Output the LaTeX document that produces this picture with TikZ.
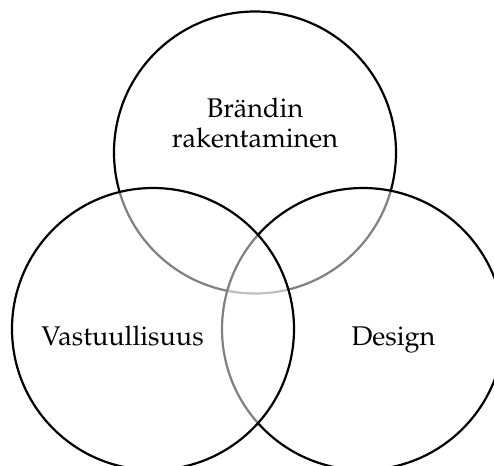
\documentclass[tikz,border=0pt]{standalone}
\usepackage[T1]{fontenc}
\renewcommand{\rmdefault}{ppl}
\usepackage{tikz}
\usetikzlibrary{positioning}
\tikzset{
  venn/.style={circle, draw=black, line width=2.2pt, fill=white, fill opacity=0.5,
    minimum size=282pt, inner sep=0pt},
  vennlabel/.style={font=\fontsize{27}{30}\selectfont, align=center, text=black}
}

\begin{document}
\begin{tikzpicture}[x=1pt, y=-1pt]
\useasboundingbox (0,0) rectangle (494,465);
% the three sets, drawn top, right, left
\node[venn] (brand) at (255,152.5) {};
\node[venn] (design) at (363,329) {};
\node[venn] (vastuu) at (153,329) {};
% labels
\node[vennlabel, anchor=base] (brandtxt) at (255,147) {Br\"andin\\rakentaminen};
\node[vennlabel, anchor=base] (vastuutxt) at (122.5,345) {Vastuullisuus};
\node[vennlabel, anchor=base] (designtxt) at (393.5,345) {Design};
\end{tikzpicture}
\end{document}
